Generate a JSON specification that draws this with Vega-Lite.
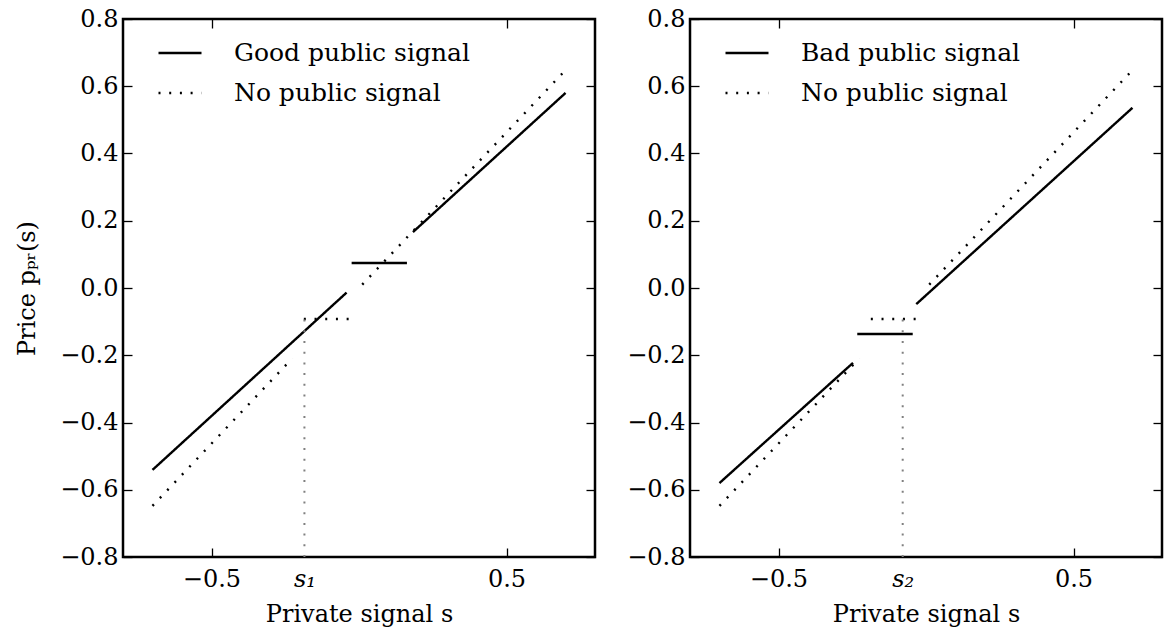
{
  "$schema": "https://vega.github.io/schema/vega-lite/v6.json",
  "background": "white",
  "padding": {"left": 14, "top": 5, "right": 2, "bottom": 5},
  "bounds": "flush",
  "spacing": 95,
  "config": {
    "font": "DejaVu Serif",
    "view": {"stroke": "black", "strokeWidth": 2.5},
    "axis": {
      "grid": false,
      "domain": false,
      "labelFont": "DejaVu Serif",
      "labelFontSize": 24,
      "labelColor": "black",
      "tickColor": "black",
      "tickSize": -9,
      "tickWidth": 1.3,
      "titleFont": "DejaVu Serif",
      "titleFontSize": 24,
      "titleFontWeight": "normal",
      "titleColor": "black",
      "labelPadding": 14
    },
    "legend": {
      "orient": "none",
      "legendX": 34,
      "legendY": 11,
      "symbolType": "stroke",
      "symbolSize": 1849,
      "symbolStrokeWidth": 2.4,
      "symbolStrokeColor": "black",
      "labelFont": "DejaVu Serif",
      "labelFontSize": 25,
      "labelColor": "black",
      "labelOffset": 31,
      "rowPadding": 4,
      "padding": 0,
      "title": null,
      "labelLimit": 400
    }
  },
  "datasets": {
    "left": [
      {"kind": "curve", "series": "Good public signal", "seg": "g1", "s": -0.7, "p": -0.541},
      {"kind": "curve", "series": "Good public signal", "seg": "g1", "s": -0.042, "p": -0.0136},
      {"kind": "curve", "series": "Good public signal", "seg": "g2", "s": -0.025, "p": 0.0744},
      {"kind": "curve", "series": "Good public signal", "seg": "g2", "s": 0.1625, "p": 0.0744},
      {"kind": "curve", "series": "Good public signal", "seg": "g3", "s": 0.183, "p": 0.1664},
      {"kind": "curve", "series": "Good public signal", "seg": "g3", "s": 0.7, "p": 0.58},
      {"kind": "curve", "series": "No public signal", "seg": "n1", "s": -0.7, "p": -0.648},
      {"kind": "curve", "series": "No public signal", "seg": "n1", "s": -0.226, "p": -0.209},
      {"kind": "curve", "series": "No public signal", "seg": "n2", "s": -0.187, "p": -0.092},
      {"kind": "curve", "series": "No public signal", "seg": "n2", "s": -0.035, "p": -0.092},
      {"kind": "curve", "series": "No public signal", "seg": "n3", "s": 0.011, "p": 0.01},
      {"kind": "curve", "series": "No public signal", "seg": "n3", "s": 0.7, "p": 0.648},
      {"kind": "ref", "series": "s1", "seg": "r", "s": -0.185, "p": -0.8},
      {"kind": "ref", "series": "s1", "seg": "r", "s": -0.185, "p": -0.092}
    ],
    "right": [
      {"kind": "curve", "series": "Bad public signal", "seg": "b1", "s": -0.7, "p": -0.58},
      {"kind": "curve", "series": "Bad public signal", "seg": "b1", "s": -0.2475, "p": -0.2227},
      {"kind": "curve", "series": "Bad public signal", "seg": "b2", "s": -0.233, "p": -0.137},
      {"kind": "curve", "series": "Bad public signal", "seg": "b2", "s": -0.045, "p": -0.137},
      {"kind": "curve", "series": "Bad public signal", "seg": "b3", "s": -0.033, "p": -0.048},
      {"kind": "curve", "series": "Bad public signal", "seg": "b3", "s": 0.7, "p": 0.536},
      {"kind": "curve", "series": "No public signal", "seg": "n1", "s": -0.7, "p": -0.648},
      {"kind": "curve", "series": "No public signal", "seg": "n1", "s": -0.226, "p": -0.209},
      {"kind": "curve", "series": "No public signal", "seg": "n2", "s": -0.187, "p": -0.092},
      {"kind": "curve", "series": "No public signal", "seg": "n2", "s": -0.035, "p": -0.092},
      {"kind": "curve", "series": "No public signal", "seg": "n3", "s": 0.011, "p": 0.01},
      {"kind": "curve", "series": "No public signal", "seg": "n3", "s": 0.7, "p": 0.648},
      {"kind": "ref", "series": "s2", "seg": "r", "s": -0.079, "p": -0.8},
      {"kind": "ref", "series": "s2", "seg": "r", "s": -0.079, "p": -0.092}
    ]
  },
  "hconcat": [
    {
      "width": 472,
      "height": 538,
      "data": {"name": "left"},
      "layer": [
        {
          "transform": [{"filter": "datum.kind == 'curve'"}],
          "mark": {"type": "line", "color": "black", "strokeWidth": 2.4, "strokeCap": "butt"},
          "encoding": {
            "x": {
              "field": "s", "type": "quantitative",
              "scale": {"domain": [-0.8, 0.8], "nice": false, "zero": false},
              "axis": {
                "orient": "bottom",
                "values": [-0.5, -0.185, 0.5],
                "labelExpr": "datum.value < -0.4 ? '−0.5' : (datum.value > 0.4 ? '0.5' : 's₁')",
                "labelFontStyle": {"condition": {"test": "abs(datum.value) < 0.4", "value": "italic"}, "value": "normal"},
                "tickOpacity": {"condition": {"test": "abs(datum.value) < 0.4", "value": 0}, "value": 1},
                "labelPadding": 19,
                "title": "Private signal s",
                "titlePadding": 11
              }
            },
            "y": {
              "field": "p", "type": "quantitative",
              "scale": {"domain": [-0.8, 0.8], "nice": false, "zero": false},
              "axis": {
                "orient": "left",
                "values": [-0.8, -0.6, -0.4, -0.2, 0, 0.2, 0.4, 0.6, 0.8],
                "labelExpr": "replace(format(datum.value, '.1f'), '-', '−')",
                "title": "Price pₚᵣ(s)",
                "titlePadding": 20
              }
            },
            "strokeDash": {
              "field": "series", "type": "nominal",
              "scale": {"domain": ["Good public signal", "No public signal"], "range": [[1, 0], [2, 8.7]]},
              "legend": {}
            },
            "detail": {"field": "seg"}
          }
        },
        {
          "transform": [{"filter": "datum.kind == 'ref'"}],
          "mark": {"type": "line", "color": "#808080", "strokeWidth": 2, "strokeDash": [2, 8.7], "strokeCap": "butt"},
          "encoding": {
            "x": {
              "field": "s", "type": "quantitative",
              "scale": {"domain": [-0.8, 0.8], "nice": false, "zero": false},
              "axis": {"orient": "top", "values": [-0.5, 0.5], "labels": false, "title": null}
            },
            "y": {
              "field": "p", "type": "quantitative",
              "scale": {"domain": [-0.8, 0.8], "nice": false, "zero": false},
              "axis": {"orient": "right", "values": [-0.8, -0.6, -0.4, -0.2, 0, 0.2, 0.4, 0.6, 0.8], "labels": false, "title": null}
            },
            "order": {"field": "p", "type": "quantitative"}
          }
        }
      ],
      "resolve": {"axis": {"x": "independent", "y": "independent"}}
    },
    {
      "width": 472,
      "height": 538,
      "data": {"name": "right"},
      "layer": [
        {
          "transform": [{"filter": "datum.kind == 'curve'"}],
          "mark": {"type": "line", "color": "black", "strokeWidth": 2.4, "strokeCap": "butt"},
          "encoding": {
            "x": {
              "field": "s", "type": "quantitative",
              "scale": {"domain": [-0.8, 0.8], "nice": false, "zero": false},
              "axis": {
                "orient": "bottom",
                "values": [-0.5, -0.079, 0.5],
                "labelExpr": "datum.value < -0.4 ? '−0.5' : (datum.value > 0.4 ? '0.5' : 's₂')",
                "labelFontStyle": {"condition": {"test": "abs(datum.value) < 0.4", "value": "italic"}, "value": "normal"},
                "tickOpacity": {"condition": {"test": "abs(datum.value) < 0.4", "value": 0}, "value": 1},
                "labelPadding": 19,
                "title": "Private signal s",
                "titlePadding": 11
              }
            },
            "y": {
              "field": "p", "type": "quantitative",
              "scale": {"domain": [-0.8, 0.8], "nice": false, "zero": false},
              "axis": {
                "orient": "left",
                "values": [-0.8, -0.6, -0.4, -0.2, 0, 0.2, 0.4, 0.6, 0.8],
                "labelExpr": "replace(format(datum.value, '.1f'), '-', '−')",
                "title": null
              }
            },
            "strokeDash": {
              "field": "series", "type": "nominal",
              "scale": {"domain": ["Bad public signal", "No public signal"], "range": [[1, 0], [2, 8.7]]},
              "legend": {}
            },
            "detail": {"field": "seg"}
          }
        },
        {
          "transform": [{"filter": "datum.kind == 'ref'"}],
          "mark": {"type": "line", "color": "#808080", "strokeWidth": 2, "strokeDash": [2, 8.7], "strokeCap": "butt"},
          "encoding": {
            "x": {
              "field": "s", "type": "quantitative",
              "scale": {"domain": [-0.8, 0.8], "nice": false, "zero": false},
              "axis": {"orient": "top", "values": [-0.5, 0.5], "labels": false, "title": null}
            },
            "y": {
              "field": "p", "type": "quantitative",
              "scale": {"domain": [-0.8, 0.8], "nice": false, "zero": false},
              "axis": {"orient": "right", "values": [-0.8, -0.6, -0.4, -0.2, 0, 0.2, 0.4, 0.6, 0.8], "labels": false, "title": null}
            },
            "order": {"field": "p", "type": "quantitative"}
          }
        }
      ],
      "resolve": {"axis": {"x": "independent", "y": "independent"}}
    }
  ],
  "resolve": {"scale": {"strokeDash": "independent"}, "legend": {"strokeDash": "independent"}}
}
